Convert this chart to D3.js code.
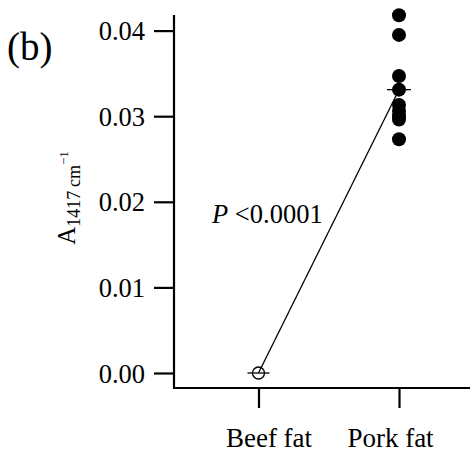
<!DOCTYPE html>
<html>
<head>
<meta charset="utf-8">
<script src="https://cdn.jsdelivr.net/npm/d3@7"></script>
<style>
  body { margin: 0; background: #fff; }
  text { font-family: "Liberation Serif", "Times New Roman", serif; fill: #000; }
</style>
</head>
<body>
<script>
// data
var groups = ["Beef fat", "Pork fat"];
var beefValues = [0.0];
var porkValues = [0.0418, 0.0395, 0.0347, 0.0331, 0.0313, 0.0306, 0.0300, 0.0296, 0.0273];
var yTicks = [0.00, 0.01, 0.02, 0.03, 0.04];

var svg = d3.select("body").append("svg")
  .attr("width", 470)
  .attr("height", 456);

var x = d3.scalePoint().domain(groups).range([258.5, 399]);
var y = d3.scaleLinear().domain([0, 0.04]).range([373, 30.6]);

var axisLeftX = 174, axisBottomY = 388;

// y axis
var yAxis = svg.append("g")
  .attr("transform", "translate(" + axisLeftX + ",0)")
  .call(d3.axisLeft(y).tickValues(yTicks).tickFormat(d3.format(".2f")).tickSize(20).tickPadding(9));
yAxis.select(".domain").remove();
yAxis.selectAll(".tick line").attr("stroke-width", 2.2);
yAxis.selectAll(".tick text").style("font-size", "26.5px").attr("dy", "0.34em");
svg.append("line")
  .attr("x1", axisLeftX).attr("x2", axisLeftX)
  .attr("y1", y(0.0418) - 0.3).attr("y2", axisBottomY + 1)
  .attr("stroke", "#000").attr("stroke-width", 2.2);

// x axis (labels sit a little off their ticks in the original)
var labelShift = [10, -9];
var xAxis = svg.append("g")
  .attr("transform", "translate(0," + axisBottomY + ")")
  .call(d3.axisBottom(x).tickSize(20).tickPadding(0));
xAxis.select(".domain").remove();
xAxis.selectAll(".tick line").attr("stroke-width", 2.2);
xAxis.selectAll(".tick text")
  .style("font-size", "27px")
  .attr("dy", null)
  .attr("y", 59)
  .attr("dx", (d, i) => labelShift[i]);
svg.append("line")
  .attr("x1", axisLeftX - 1).attr("x2", 470)
  .attr("y1", axisBottomY).attr("y2", axisBottomY)
  .attr("stroke", "#000").attr("stroke-width", 2.2);

var beefMean = d3.mean(beefValues), porkMean = d3.mean(porkValues);

// line between means
svg.append("line")
  .attr("x1", x("Beef fat")).attr("y1", y(beefMean))
  .attr("x2", x("Pork fat")).attr("y2", y(porkMean))
  .attr("stroke", "#000").attr("stroke-width", 1.3);

// pork points
svg.selectAll(".pork")
  .data(porkValues)
  .join("circle")
  .attr("cx", x("Pork fat"))
  .attr("cy", d => y(d))
  .attr("r", 7)
  .attr("fill", "#000");

// beef points (open)
svg.selectAll(".beef")
  .data(beefValues)
  .join("circle")
  .attr("cx", x("Beef fat"))
  .attr("cy", d => y(d))
  .attr("r", 6)
  .attr("fill", "none")
  .attr("stroke", "#000")
  .attr("stroke-width", 1.3);

// mean bars
svg.append("line")
  .attr("x1", x("Beef fat") - 11).attr("x2", x("Beef fat") + 11)
  .attr("y1", y(beefMean)).attr("y2", y(beefMean))
  .attr("stroke", "#000").attr("stroke-width", 1.3);
svg.append("line")
  .attr("x1", x("Pork fat") - 12).attr("x2", x("Pork fat") + 12)
  .attr("y1", y(porkMean)).attr("y2", y(porkMean))
  .attr("stroke", "#000").attr("stroke-width", 1.3);

// panel label
svg.append("text")
  .attr("x", 7).attr("y", 60)
  .style("font-size", "39px")
  .text("(b)");

// y axis title
var yt = svg.append("text")
  .attr("transform", "translate(75,198) rotate(-90)")
  .attr("text-anchor", "middle")
  .style("font-size", "25px");
yt.append("tspan").text("A");
yt.append("tspan").attr("dy", 5).style("font-size", "18px").text("1417\u2009cm");
yt.append("tspan").attr("dy", -12).style("font-size", "13px").text("\u22121");

// p-value
var pt = svg.append("text")
  .attr("x", 212).attr("y", 223)
  .style("font-size", "26.5px");
pt.append("tspan").style("font-style", "italic").text("P");
pt.append("tspan").text(" <0.0001");
</script>
</body>
</html>
